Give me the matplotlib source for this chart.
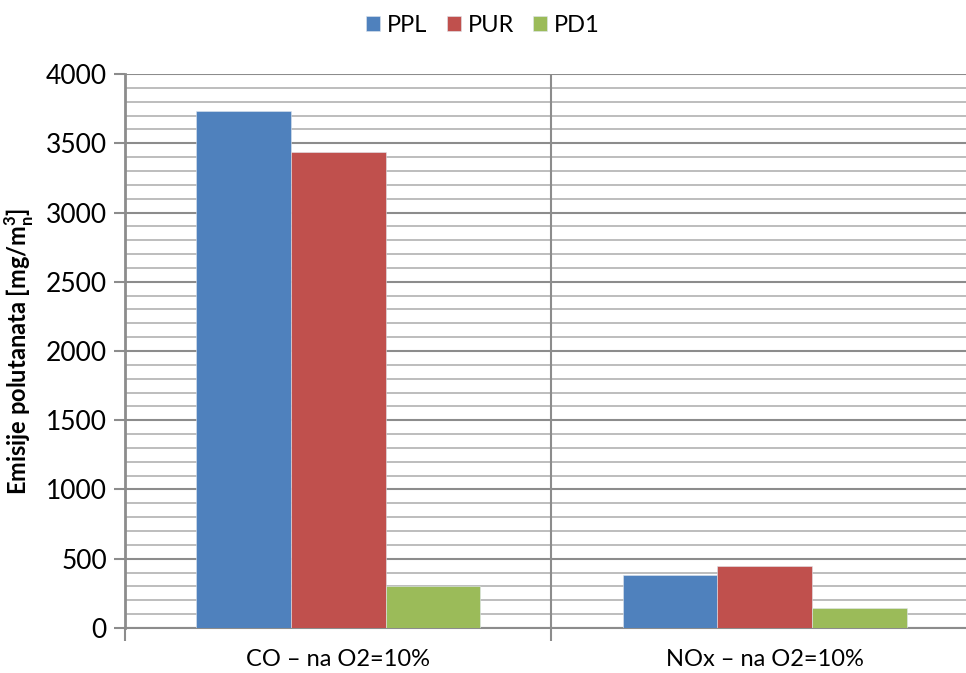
import matplotlib.pyplot as plt
import numpy as np
from matplotlib.ticker import MultipleLocator, FixedLocator, NullFormatter

categories = ['CO – na O2=10%', 'NOx – na O2=10%']
series = ['PPL', 'PUR', 'PD1']
ppl = [3730, 380]
pur = [3440, 450]
pd1 = [300, 145]
colors = ['#4F81BD', '#C0504D', '#9BBB59']

plt.rcParams['font.family'] = ['Lato', 'DejaVu Sans']
plt.rcParams['mathtext.fontset'] = 'custom'
plt.rcParams['mathtext.rm'] = 'Lato'
plt.rcParams['mathtext.bf'] = 'Lato:bold'

fig = plt.figure(figsize=(9.66, 6.73), dpi=100)
ax = fig.add_axes([0.1294, 0.0669, 0.883, 0.8231])

x = np.arange(len(categories))
w = 1 / 4.5
for i, (name, vals) in enumerate(zip(series, [ppl, pur, pd1])):
    ax.bar(x + (i - 1) * w, vals, w, color=colors[i], label=name,
           edgecolor='#dfe6ee', linewidth=0.4, zorder=3)

ax.set_xlim(-0.5, 1.5)
ax.set_ylim(0, 4000)

# major / minor horizontal grid
ax.yaxis.set_major_locator(MultipleLocator(500))
ax.yaxis.set_minor_locator(MultipleLocator(100))
ax.yaxis.set_minor_formatter(NullFormatter())
ax.grid(which='major', axis='y', color='#8c8c8c', linewidth=1.5, zorder=1)
ax.grid(which='minor', axis='y', color='#b8b8b8', linewidth=1.3, zorder=1)
ax.tick_params(axis='y', which='major', length=8, width=1.5, color='#8c8c8c',
               labelsize=19, pad=5)
ax.tick_params(axis='y', which='minor', length=0)

# category labels centred, ticks at category boundaries
ax.set_xticks(x)
ax.set_xticklabels(categories, fontsize=17)
ax.tick_params(axis='x', which='major', length=0, pad=15)
ax.xaxis.set_minor_locator(FixedLocator([-0.5, 0.5, 1.5]))
ax.tick_params(axis='x', which='minor', length=9, width=1.5, color='#8c8c8c')
ax.axvline(0.5, color='#8c8c8c', linewidth=1.5, zorder=2)

for s in ['top', 'right']:
    ax.spines[s].set_visible(False)
ax.spines['left'].set_color('#8c8c8c')
ax.spines['left'].set_linewidth(2)
ax.spines['bottom'].set_color('#8c8c8c')
ax.spines['bottom'].set_linewidth(1.5)

ax.set_ylabel(r'Emisije polutanata [mg/m$_{\mathbf{n}}^{\mathbf{3}}$]',
              fontsize=17, fontweight='bold', labelpad=7)

fig.legend(loc='upper center', bbox_to_anchor=(0.5, 1.01), ncol=3, frameon=False,
           fontsize=17, handlelength=0.6, handleheight=0.6, handletextpad=0.3,
           columnspacing=0.8)

fig.savefig('out.png', dpi=100)
